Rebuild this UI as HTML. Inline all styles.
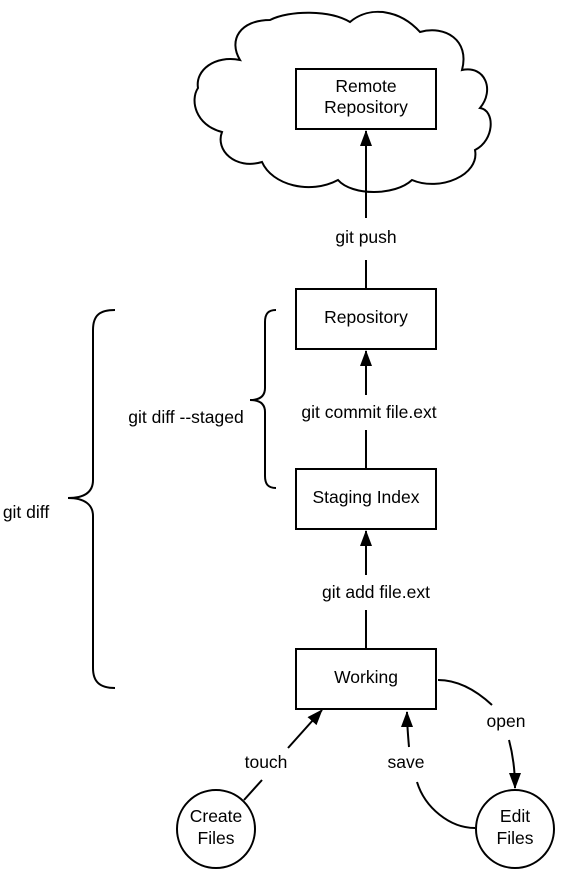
<!DOCTYPE html>
<html><head><style>
html,body{margin:0;padding:0;background:#fff;}
svg text{font-family:"Liberation Sans",sans-serif;font-size:17.5px;fill:#000;}
</style></head><body>
<svg width="564" height="880" viewBox="0 0 564 880" xmlns="http://www.w3.org/2000/svg">
<defs><marker id="a" markerWidth="16" markerHeight="12" refX="15" refY="6" orient="auto" markerUnits="userSpaceOnUse"><path d="M0,0 L16,6 L0,12 z" fill="#000"/></marker></defs>
<g fill="none" stroke="#000" stroke-width="2">
<path d="M240,60 C215,55 195,70 198,88 C190,100 195,125 222,132 C215,150 235,170 262,162 C272,185 310,195 338,180 C352,196 395,196 412,180 C440,192 480,175 475,150 C495,140 495,110 480,108 C495,90 485,65 462,70 C470,40 445,25 420,32 C400,10 370,5 350,22 C330,10 290,10 270,20 C240,20 228,40 240,60 Z"/>
<rect x="296" y="69" width="140" height="60"/>
<rect x="296" y="289" width="140" height="60"/>
<rect x="296" y="469" width="140" height="60"/>
<rect x="296" y="649" width="140" height="60"/>
<circle cx="216" cy="829" r="39"/>
<circle cx="515" cy="829" r="39"/>
<line x1="366" y1="289" x2="366" y2="260"/>
<line x1="366" y1="218" x2="366" y2="131" marker-end="url(#a)"/>
<line x1="366" y1="469" x2="366" y2="430"/>
<line x1="366" y1="395" x2="366" y2="351" marker-end="url(#a)"/>
<line x1="366" y1="649" x2="366" y2="610"/>
<line x1="366" y1="575" x2="366" y2="531" marker-end="url(#a)"/>
<line x1="244" y1="800" x2="262" y2="780"/>
<line x1="288" y1="748" x2="322" y2="710" marker-end="url(#a)"/>
<path d="M438,680 C460,680 478,692 492,705"/>
<path d="M509,740 C513,755 515,770 515,788" marker-end="url(#a)"/>
<path d="M475,828 C450,828 425,808 417,782"/>
<path d="M409,747 C408,735 407,725 407,712" marker-end="url(#a)"/>
<path d="M115,310 C100,310 93,315 93,330 L93,480 C93,492 85,498 68,498 C85,498 93,505 93,516 L93,668 C93,682 100,688 115,688"/>
<path d="M276,310 C268,310 265,314 265,322 L265,388 C265,396 260,400 250,400 C260,400 265,404 265,412 L265,476 C265,484 268,488 276,488"/>
</g>
<text x="366" y="92" text-anchor="middle">Remote</text>
<text x="366" y="113" text-anchor="middle">Repository</text>
<text x="366" y="323" text-anchor="middle">Repository</text>
<text x="366" y="503" text-anchor="middle">Staging Index</text>
<text x="366" y="683" text-anchor="middle">Working</text>
<text x="366" y="243" text-anchor="middle">git push</text>
<text x="369" y="418" text-anchor="middle">git commit file.ext</text>
<text x="376" y="598" text-anchor="middle">git add file.ext</text>
<text x="186" y="423" text-anchor="middle">git diff --staged</text>
<text x="26" y="518" text-anchor="middle">git diff</text>
<text x="266" y="768" text-anchor="middle">touch</text>
<text x="406" y="768" text-anchor="middle">save</text>
<text x="506" y="727" text-anchor="middle">open</text>
<text x="216" y="822" text-anchor="middle">Create</text>
<text x="216" y="844" text-anchor="middle">Files</text>
<text x="515" y="822" text-anchor="middle">Edit</text>
<text x="515" y="844" text-anchor="middle">Files</text>
</svg>
</body></html>
